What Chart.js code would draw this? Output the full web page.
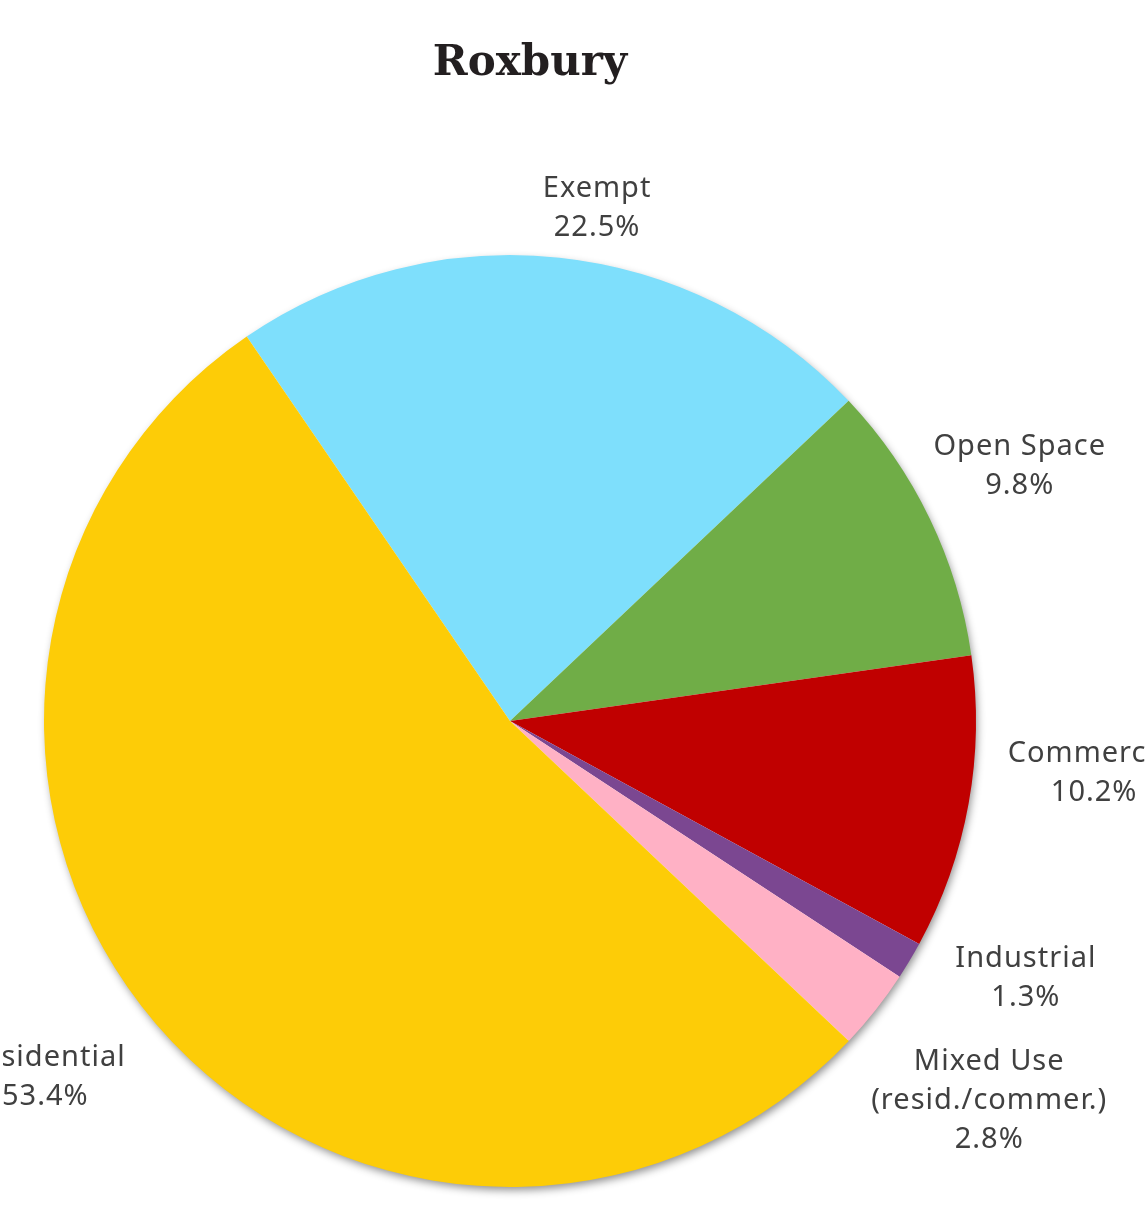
<!DOCTYPE html>
<html lang="en">

<head>
    <meta charset="UTF-8">
    <title>Roxbury</title>
    <script src="https://cdn.jsdelivr.net/npm/chart.js"></script>
    <style>
        html, body { margin: 0; padding: 0; background: #fff; }
        #wrap { width: 1148px; height: 1216px; }
    </style>
</head>

<body>
    <div id="wrap"><canvas id="pieChart" width="1148" height="1216"></canvas></div>

    <script>
        // data, clockwise from the Exempt slice
        const categories = ["Exempt", "Open Space", "Commercial", "Industrial", "Mixed Use\n(resid./commer.)", "Residential"];
        const shares = [22.5, 9.8, 10.2, 1.3, 2.8, 53.4];
        const percentLabels = ["22.5%", "9.8%", "10.2%", "1.3%", "2.8%", "53.4%"];
        const sliceColors = ["#7EDFFC", "#70AD47", "#C00000", "#7B4791", "#FFB1C5", "#FDCC07"];

        // label nudges (px) from the default spot outside each slice
        const labelNudge = [[28, 38], [9, -15], [37, -49], [39, -31], [43, 33], [-42, -7]];
        const labelGap = 90;
        const lineHeight = 39;

        const ctx = document.getElementById('pieChart');

        const pieShadow = {
            id: 'pieShadow',
            beforeDatasetsDraw(chart) {
                const arc = chart.getDatasetMeta(0).data[0];
                if (!arc) return;
                const p = arc.getProps(['x', 'y', 'outerRadius'], true);
                const c = chart.ctx;
                c.save();
                c.shadowColor = 'rgba(0,0,0,0.45)';
                c.shadowBlur = 9;
                c.shadowOffsetX = 2;
                c.shadowOffsetY = 4;
                c.fillStyle = '#fff';
                c.beginPath();
                c.arc(p.x, p.y, p.outerRadius - 1, 0, Math.PI * 2);
                c.fill();
                c.restore();
            }
        };

        const outsideLabels = {
            id: 'outsideLabels',
            afterDatasetsDraw(chart) {
                const c = chart.ctx;
                const meta = chart.getDatasetMeta(0);
                c.save();
                c.fillStyle = '#404040';
                c.font = '29px "Noto Sans"';
                c.letterSpacing = '1px';
                c.textAlign = 'center';
                c.textBaseline = 'alphabetic';
                meta.data.forEach((arc, i) => {
                    const p = arc.getProps(['x', 'y', 'startAngle', 'endAngle', 'outerRadius'], true);
                    const mid = (p.startAngle + p.endAngle) / 2;
                    const d = p.outerRadius + labelGap;
                    const cx = p.x + Math.cos(mid) * d + labelNudge[i][0];
                    const cy = p.y + Math.sin(mid) * d + labelNudge[i][1];
                    const lines = categories[i].split('\n').concat([percentLabels[i]]);
                    const top = cy - (lines.length - 1) * lineHeight / 2;
                    lines.forEach((t, k) => {
                        c.fillText(t, cx, top + k * lineHeight + 10.5);
                    });
                });
                // title
                c.letterSpacing = '0px';
                c.fillStyle = '#231F20';
                c.font = 'bold 42px "DejaVu Serif"';
                c.fillText('Roxbury', 530, 75);
                c.restore();
            }
        };

        new Chart(ctx, {
            type: 'pie',
            data: {
                labels: categories,
                datasets: [{
                    data: shares,
                    backgroundColor: sliceColors,
                    borderWidth: 0
                }]
            },
            options: {
                responsive: false,
                animation: false,
                rotation: -34.4,
                layout: {
                    padding: { left: 44, right: 172, top: 255, bottom: 29 }
                },
                plugins: {
                    legend: { display: false },
                    title: { display: false },
                    tooltip: { enabled: false }
                }
            },
            plugins: [pieShadow, outsideLabels]
        });
    </script>
</body>

</html>
